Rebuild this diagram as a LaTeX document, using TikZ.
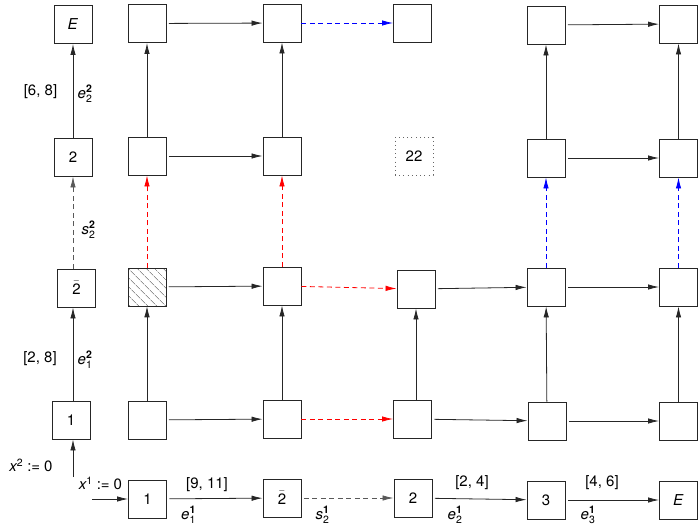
\documentclass[tikz,border=0pt]{standalone}
\usepackage{amsmath}
\usepackage{fontspec}
\setmainfont{TeX Gyre Heros}
\usetikzlibrary{arrows.meta,patterns.meta}
\newcommand{\tv}[1]{\textit{#1}}
\newcommand{\lbl}[3]{$\tv{#1}^{\textbf{#2}}_{\text{#3}}$}
\begin{document}
\begin{tikzpicture}[x=1pt,y=-1pt,
  font=\fontsize{15}{17}\selectfont,
  box/.style={draw=black!85,line width=0.9pt,minimum size=38pt,inner sep=0pt,fill=white},
  hatchbox/.style={box,pattern={Lines[angle=-45,distance=6.5pt,line width=0.5pt]},pattern color=black!65},
  dotbox/.style={draw=black!60,line width=0.9pt,dash pattern=on 1pt off 3.2pt,minimum size=38pt,inner sep=0pt},
  arr/.style={-{Latex[length=11pt,width=5.5pt]},line width=0.8pt,draw=black!85},
  hs/.style={shorten <=2.5pt},
  dgray/.style={arr,dash pattern=on 5pt off 3.5pt,draw=black!65},
  dred/.style={arr,dash pattern=on 5pt off 3.5pt,draw=red},
  dblue/.style={arr,dash pattern=on 5pt off 3.5pt,draw=blue},
  lab/.style={inner sep=1pt}
]
\useasboundingbox (0,0) rectangle (699,525);

% left column
\node[box] (lE) at (73,24.5) {\tv{E}};
\node[box] (l2) at (73,157) {2};
\node[box] (l2b) at (76.5,288) {$\bar{\text{2}}$};
\node[box] (l1) at (71,420) {1};
\coordinate (lstart) at (73,477);

% grid
\node[box] (a1) at (147,23.5) {};
\node[box] (a2) at (282,23) {};
\node[box] (a3) at (412.5,23) {};
\node[box] (a4) at (546,25) {};
\node[box] (a5) at (678.5,24) {};

\node[box] (b1) at (147,156) {};
\node[box] (b2) at (282,156) {};
\node[dotbox] (b3) at (414,156) {22};
\node[box] (b4) at (546,158) {};
\node[box] (b5) at (678.5,158) {};

\node[hatchbox] (c1) at (147,287) {};
\node[box] (c2) at (282,286) {};
\node[box] (c3) at (416,289) {};
\node[box] (c4) at (546,287) {};
\node[box] (c5) at (678.5,287) {};

\node[box] (d1) at (147,420) {};
\node[box] (d2) at (282,419) {};
\node[box] (d3) at (412.5,419) {};
\node[box] (d4) at (547,421) {};
\node[box] (d5) at (678.5,421) {};

% bottom row
\node[box] (e1) at (147.5,499) {1};
\node[box] (e2b) at (282,498) {$\bar{\text{2}}$};
\node[box] (e2) at (413,498) {2};
\node[box] (e3) at (546,500) {3};
\node[box] (eE) at (678.5,500) {\tv{E}};
\coordinate (bstart) at (92,499);

% left column connectors
\draw[arr] (lstart) -- (lstart |- l1.south);
\draw[arr] (l1.north -| l2) -- (l2 |- l2b.south);
\draw[dgray] (l2b.north -| l2) -- (l2.south);
\draw[arr] (l2) -- (lE);

% bottom row connectors
\draw[arr] (bstart) -- (e1.west);
\draw[arr,hs] (e1) -- (e2b);
\draw[dgray,hs] (e2b) -- (e2);
\draw[arr,hs] (e2) -- (e3);
\draw[arr,hs] (e3) -- (eE);

% grid horizontals
\draw[arr,hs] (a1) -- (a2);
\draw[dblue] (a2) -- (a3);
\draw[arr,hs] (a4) -- (a5);
\draw[arr,hs] (b1) -- (b2);
\draw[arr,hs] (b4) -- (b5);
\draw[arr,hs] (c1) -- (c2);
\draw[dred] (c2) -- (c3);
\draw[arr,hs] (c3) -- (c4);
\draw[arr,hs] (c4) -- (c5);
\draw[arr,hs] (d1) -- (d2);
\draw[dred] (d2) -- (d3);
\draw[arr,hs] (d3) -- (d4);
\draw[arr,hs] (d4) -- (d5);

% grid verticals
\draw[arr] (d1) -- (c1);
\draw[dred] (c1) -- (b1);
\draw[arr] (b1) -- (a1);
\draw[arr] (d2) -- (c2);
\draw[dred] (c2) -- (b2);
\draw[arr] (b2) -- (a2);
\draw[arr] (d3.north -| c3) -- (c3.south);
\draw[arr] (d4) -- (c4);
\draw[dblue] (c4) -- (b4);
\draw[arr] (b4) -- (a4);
\draw[arr] (d5) -- (c5);
\draw[dblue] (c5) -- (b5);
\draw[arr] (b5) -- (a5);

% labels
\node[lab] (t68) at (40.5,92) {[6, 8]};
\node[lab] (te22) at (85,94) {\lbl{e}{2}{2}};
\node[lab] (ts22) at (88.5,230) {\lbl{s}{2}{2}};
\node[lab] (t28) at (40,359) {[2, 8]};
\node[lab] (te12) at (85,360) {\lbl{e}{2}{1}};
\node[lab] (tx2) at (31,465) {$\tv{x}^{\text{2}}\mathrel{\text{:=}}\text{0}$};
\node[lab] (tx1) at (100.5,483) {$\tv{x}^{\text{1}}\mathrel{\text{:=}}\text{0}$};
\node[lab] (t911) at (207,485) {[9, 11]};
\node[lab] (te11) at (188.5,515) {\lbl{e}{1}{1}};
\node[lab] (ts21) at (322.5,515) {\lbl{s}{1}{2}};
\node[lab] (t24) at (472,483) {[2, 4]};
\node[lab] (te21) at (455,515) {\lbl{e}{1}{2}};
\node[lab] (t46) at (602,483) {[4, 6]};
\node[lab] (te31) at (588,515) {\lbl{e}{1}{3}};
\end{tikzpicture}
\end{document}
